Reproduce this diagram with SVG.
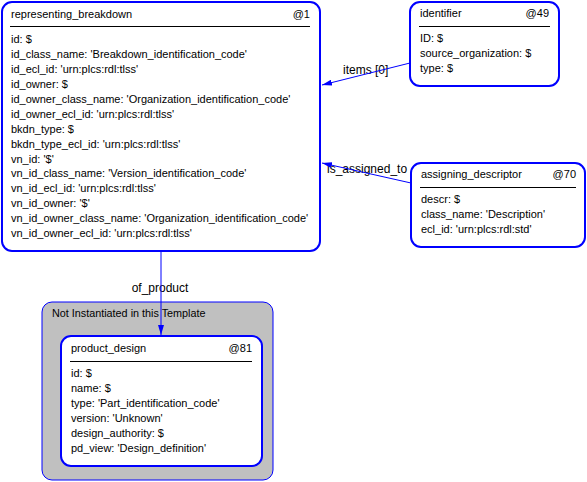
<svg xmlns="http://www.w3.org/2000/svg" width="587" height="482" viewBox="0 0 587 482">
<style>
text{font-family:"Liberation Sans",Arial,sans-serif;font-size:11px;fill:#000}
.lbl{font-size:12px}
.box{fill:#fff;stroke:#0000ff;stroke-width:2}
.sep{stroke:#000;stroke-width:1}
.con{stroke:#0000ff;stroke-width:1;fill:none}
</style>
<defs>
<marker id="arr" viewBox="0 0 10 6" refX="10" refY="3" markerWidth="10" markerHeight="6" orient="auto" markerUnits="userSpaceOnUse">
<path d="M0,0 L10,3 L0,6 Z" fill="#0000ff"/>
</marker>
</defs>
<rect width="587" height="482" fill="#fff"/>
<g id="template_group">
<rect x="42" y="302" width="231" height="178" rx="10" fill="#c0c0c0" stroke="#0000ff" stroke-width="1"/>
<text x="52" y="317" style="font-size:10.8px">Not Instantiated in this Template</text>
</g>
<g id="representing_breakdown">
<rect class="box" x="2" y="2" width="318" height="249" rx="10"/>
<text x="11" y="18">representing_breakdown</text>
<text x="310" y="18" text-anchor="end">@1</text>
<line class="sep" x1="10" y1="26.5" x2="310" y2="26.5"/>
<text x="11" y="43">id: $</text>
<text x="11" y="58">id_class_name: 'Breakdown_identification_code'</text>
<text x="11" y="73">id_ecl_id: 'urn:plcs:rdl:tlss'</text>
<text x="11" y="88">id_owner: $</text>
<text x="11" y="103">id_owner_class_name: 'Organization_identification_code'</text>
<text x="11" y="118">id_owner_ecl_id: 'urn:plcs:rdl:tlss'</text>
<text x="11" y="133">bkdn_type: $</text>
<text x="11" y="148">bkdn_type_ecl_id: 'urn:plcs:rdl:tlss'</text>
<text x="11" y="163">vn_id: '$'</text>
<text x="11" y="177">vn_id_class_name: 'Version_identification_code'</text>
<text x="11" y="192">vn_id_ecl_id: 'urn:plcs:rdl:tlss'</text>
<text x="11" y="207">vn_id_owner: '$'</text>
<text x="11" y="222">vn_id_owner_class_name: 'Organization_identification_code'</text>
<text x="11" y="237">vn_id_owner_ecl_id: 'urn:plcs:rdl:tlss'</text>
</g>
<g id="identifier">
<rect class="box" x="410" y="2" width="149" height="84" rx="10"/>
<text x="420" y="17">identifier</text>
<text x="549" y="17" text-anchor="end">@49</text>
<line class="sep" x1="419" y1="26.5" x2="550" y2="26.5"/>
<text x="420" y="42">ID: $</text>
<text x="420" y="57">source_organization: $</text>
<text x="420" y="72">type: $</text>
</g>
<g id="assigning_descriptor">
<rect class="box" x="411" y="163" width="174" height="84" rx="10"/>
<text x="421" y="178">assigning_descriptor</text>
<text x="576" y="178" text-anchor="end">@70</text>
<line class="sep" x1="420" y1="187.5" x2="576" y2="187.5"/>
<text x="421" y="203">descr: $</text>
<text x="421" y="218">class_name: 'Description'</text>
<text x="421" y="233">ecl_id: 'urn:plcs:rdl:std'</text>
</g>
<g id="product_design">
<rect class="box" x="61" y="336" width="201" height="130" rx="10"/>
<text x="71" y="352">product_design</text>
<text x="252" y="352" text-anchor="end">@81</text>
<line class="sep" x1="70" y1="361.5" x2="252" y2="361.5"/>
<text x="71" y="377">id: $</text>
<text x="71" y="392">name: $</text>
<text x="71" y="407">type: 'Part_identification_code'</text>
<text x="71" y="422">version: 'Unknown'</text>
<text x="71" y="437">design_authority: $</text>
<text x="71" y="452">pd_view: 'Design_definition'</text>
</g>
<g id="connectors">
<text class="lbl" x="343" y="74">items [0]</text>
<line class="con" x1="410" y1="63" x2="322" y2="85" marker-end="url(#arr)"/>
<text class="lbl" x="327" y="173">is_assigned_to</text>
<line class="con" x1="411" y1="183" x2="322" y2="163" marker-end="url(#arr)"/>
<text class="lbl" x="160" y="292" text-anchor="middle">of_product</text>
<line class="con" x1="161" y1="252" x2="161" y2="335" marker-end="url(#arr)"/>
</g>
</svg>
